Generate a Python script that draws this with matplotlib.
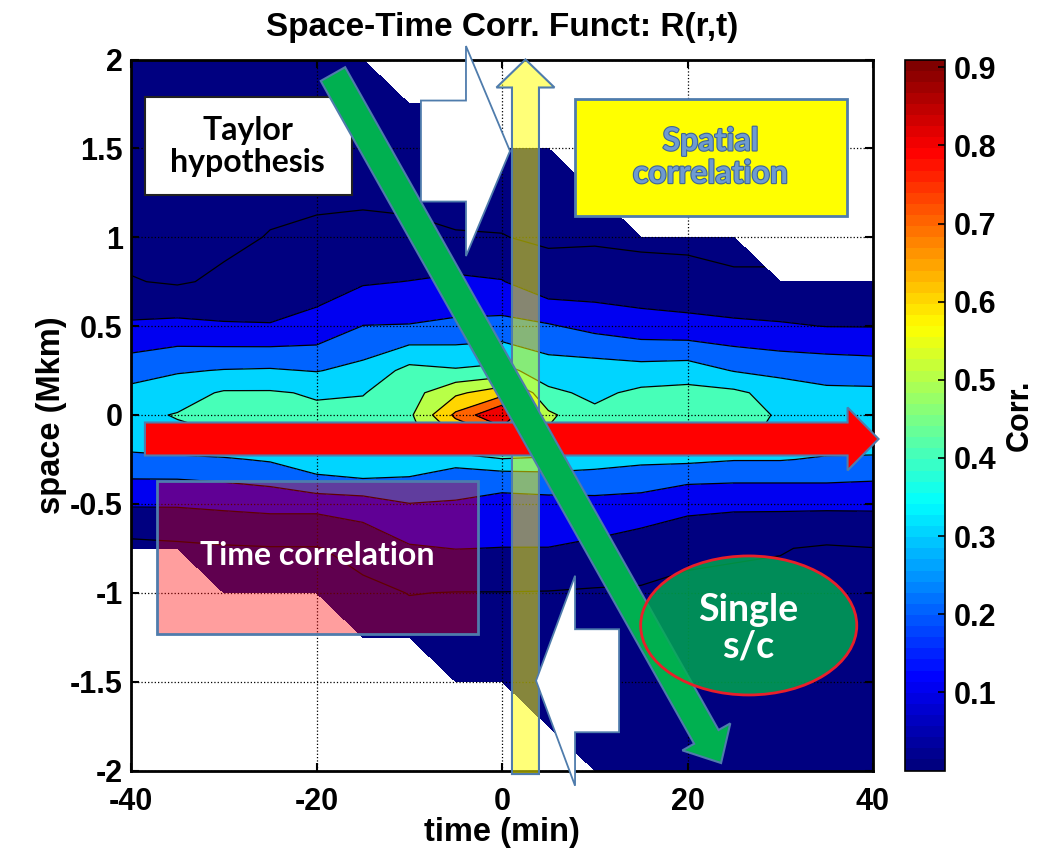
import numpy as np
import matplotlib
matplotlib.use("Agg")
import matplotlib.pyplot as plt
import matplotlib.patheffects as pe
from matplotlib.colors import LinearSegmentedColormap, Normalize
from matplotlib.cm import ScalarMappable
from matplotlib.patches import Polygon, Rectangle, Ellipse

nan = np.nan

# time lag (min) and spacecraft separation (Mkm)
lag = [-40, -35, -30, -25, -20, -15, -10, -5, 0, 5, 10, 15, 20, 25, 30, 35, 40]
sep = [-2.0, -1.75, -1.5, -1.25, -1.0, -0.75, -0.5, -0.375, -0.25, -0.125,
       0.0, 0.125, 0.25, 0.5, 0.75, 1.0, 1.25, 1.5, 1.75, 2.0]

# R(r,t): one row per separation, bottom to top; nan where there is no coverage
corr = [
    [nan, nan, nan, nan, nan, nan, nan, nan, nan, nan, -0.04, -0.04, -0.04, -0.04, -0.04, -0.04, -0.04],
    [nan, nan, nan, nan, nan, nan, nan, nan, nan, -0.04, -0.04, -0.04, -0.04, -0.04, -0.04, -0.04, -0.04],
    [nan, nan, nan, nan, nan, nan, nan, -0.04, -0.04, -0.03, -0.04, -0.04, -0.04, -0.04, -0.04, -0.04, -0.04],
    [nan, nan, nan, nan, nan, -0.04, -0.03, -0.02, -0.02, -0.02, -0.03, -0.03, -0.03, -0.03, -0.03, -0.03, -0.03],
    [nan, nan, -0.04, -0.03, -0.03, -0.02, 0.002, -0.002, -0.002, -0.004, -0.01, -0.01, -0.02, -0.02, -0.02, -0.02, -0.02],
    [-0.03, -0.02, -0.01, -0.005, -0.005, 0.03, 0.09, 0.102, 0.098, 0.098, 0.08, 0.05, 0.02, 0.01, 0.004, -0.01, -0.002],
    [0.11, 0.11, 0.12, 0.13, 0.13, 0.15, 0.198, 0.19, 0.18, 0.18, 0.17, 0.16, 0.13, 0.12, 0.12, 0.12, 0.12],
    [0.19, 0.19, 0.202, 0.22, 0.28, 0.29, 0.28, 0.25, 0.22, 0.23, 0.25, 0.24, 0.21, 0.205, 0.205, 0.205, 0.198],
    [0.27, 0.28, 0.29, 0.31, 0.34, 0.36, 0.37, 0.33, 0.39, 0.39, 0.34, 0.32, 0.32, 0.305, 0.305, 0.29, 0.29],
    [0.36, 0.38, 0.395, 0.42, 0.405, 0.41, 0.46, 0.60, 0.70, 0.48, 0.405, 0.42, 0.42, 0.42, 0.38, 0.35, 0.34],
    [0.38, 0.405, 0.43, 0.45, 0.42, 0.43, 0.48, 0.72, 0.91, 0.52, 0.42, 0.44, 0.45, 0.44, 0.39, 0.36, 0.35],
    [0.33, 0.36, 0.41, 0.41, 0.39, 0.395, 0.46, 0.58, 0.66, 0.42, 0.38, 0.42, 0.43, 0.42, 0.36, 0.32, 0.32],
    [0.255, 0.29, 0.305, 0.31, 0.295, 0.33, 0.43, 0.41, 0.43, 0.35, 0.35, 0.34, 0.35, 0.295, 0.27, 0.26, 0.25],
    [0.115, 0.125, 0.11, 0.105, 0.13, 0.202, 0.205, 0.22, 0.23, 0.21, 0.17, 0.14, 0.13, 0.12, 0.11, 0.098, 0.097],
    [0.005, -0.01, 0.016, 0.04, 0.06, 0.09, 0.102, 0.12, 0.105, 0.03, 0.04, 0.04, 0.03, 0.01, 0.01, 0.02, 0.02],
    [-0.03, -0.03, -0.02, 0.004, 0.01, 0.016, 0.01, 0.002, 0.002, -0.01, -0.01, -0.02, -0.02, -0.02, nan, nan, nan],
    [-0.04, -0.04, -0.04, -0.02, -0.01, -0.01, -0.01, -0.01, -0.02, -0.03, -0.04, nan, nan, nan, nan, nan, nan],
    [-0.04, -0.04, -0.04, -0.04, -0.03, -0.03, -0.03, -0.03, -0.04, -0.04, nan, nan, nan, nan, nan, nan, nan],
    [-0.04, -0.04, -0.04, -0.04, -0.04, -0.04, -0.04, -0.04, nan, nan, nan, nan, nan, nan, nan, nan, nan],
    [-0.04, -0.04, -0.04, -0.04, -0.04, -0.04, nan, nan, nan, nan, nan, nan, nan, nan, nan, nan, nan],
]

levels = [-0.1, 0.0, 0.1, 0.2, 0.3, 0.4, 0.5, 0.6, 0.7, 0.8, 1.0]
line_levels = [0.0, 0.1, 0.2, 0.3, 0.4, 0.5, 0.6, 0.7, 0.8]
cbar_ticks = [0.1, 0.2, 0.3, 0.4, 0.5, 0.6, 0.7, 0.8, 0.9]
cmin, cmax = 0.0, 0.91

plt.rcParams['axes.unicode_minus'] = False
plt.rcParams['font.family'] = ['Liberation Sans', 'DejaVu Sans']
plt.rcParams['font.weight'] = 'bold'
plt.rcParams['axes.labelweight'] = 'bold'
plt.rcParams['axes.titleweight'] = 'bold'
plt.rcParams['font.size'] = 22

# matlab style jet, 64 entries
jet64 = LinearSegmentedColormap.from_list(
    "jet64", [(0, (0, 0, 0.5)), (0.125, (0, 0, 1)), (0.375, (0, 1, 1)),
              (0.625, (1, 1, 0)), (0.875, (1, 0, 0)), (1, (0.5, 0, 0))], N=64)
# each band takes the colour of its lower level
fill_colors = [jet64(float(np.clip((lv - cmin) / (cmax - cmin), 0, 1))) for lv in levels[:-1]]

fig = plt.figure(figsize=(10.59, 8.49), dpi=100)
ax = fig.add_axes([131 / 1059, 78.5 / 849, 742 / 1059, 711 / 849])
ax.set_xlim(-40, 40)
ax.set_ylim(-2, 2)

T, R = np.meshgrid(lag, sep)
Z = np.ma.masked_invalid(np.array(corr))
ax.contourf(T, R, Z, levels=levels, colors=fill_colors, zorder=0.5)
ax.contour(T, R, Z, levels=line_levels, colors='k', linewidths=0.9, zorder=1)

ax.set_xticks([-40, -20, 0, 20, 40])
ax.set_yticks([-2, -1.5, -1, -0.5, 0, 0.5, 1, 1.5, 2])
ax.set_yticklabels(['-2', '-1.5', '-1', '-0.5', '0', '0.5', '1', '1.5', '2'])
ax.tick_params(direction='in', length=6, width=1.5, top=True, right=True)
ax.tick_params(axis='x', pad=12)
ax.tick_params(axis='y', pad=6)
for s in ax.spines.values():
    s.set_linewidth(2)
ax.set_axisbelow(False)
ax.grid(True, color='k', linestyle=':', linewidth=0.9)
ax.set_xlabel('time (min)', fontsize=23.5, labelpad=0)
ax.set_ylabel('space (Mkm)', fontsize=23.5, labelpad=2)
ax.set_title('Space-Time Corr. Funct: R(r,t)', fontsize=24, pad=17)

# colorbar
cax = fig.add_axes([905 / 1059, 78.5 / 849, 40 / 1059, 711 / 849])
cb = fig.colorbar(ScalarMappable(norm=Normalize(cmin, cmax), cmap=jet64), cax=cax, ticks=cbar_ticks)
cb.ax.set_yticklabels([f'{v:.1f}' for v in cbar_ticks])
cb.ax.tick_params(direction='in', length=5, width=1.2, pad=6)
cb.outline.set_linewidth(1.2)
cb.set_label('Corr.', labelpad=6, fontweight='bold')

edge = '#4F7CAC'
ann_font = dict(family=['Lato', 'DejaVu Sans'], weight='bold')


def block_arrow(start, end, shaft, head, head_len, **kw):
    # widths are in pixels, ends in data units
    p0 = ax.transData.transform(start)
    p1 = ax.transData.transform(end)
    u = (p1 - p0) / np.hypot(*(p1 - p0))
    n = np.array([-u[1], u[0]])
    b = p1 - u * head_len
    pts = [p0 + n * shaft / 2, b + n * shaft / 2, b + n * head / 2, p1,
           b - n * head / 2, b - n * shaft / 2, p0 - n * shaft / 2]
    pts = ax.transData.inverted().transform(pts)
    ax.add_patch(Polygon(pts, closed=True, clip_on=False, **kw))


# text boxes
ax.add_patch(Rectangle((-38.5, 1.24), 22.3, 0.55, facecolor='white', edgecolor='#222222',
                       linewidth=1.5, zorder=3, clip_on=False))
ax.text(-27.4, 1.51, 'Taylor\nhypothesis', ha='center', va='center', fontsize=23,
        color='black', linespacing=1.15, zorder=3.5, **ann_font)

ax.add_patch(Rectangle((7.9, 1.12), 29.3, 0.66, facecolor='#FFFF00', edgecolor=edge,
                       linewidth=2, zorder=3, clip_on=False))
ax.text(22.5, 1.45, 'Spatial\ncorrelation', ha='center', va='center', fontsize=23,
        color='#6E9BD0', linespacing=1.15, zorder=3.5,
        path_effects=[pe.withStroke(linewidth=1.6, foreground='#3E6596')], **ann_font)

ax.add_patch(Rectangle((-37.2, -1.23), 34.6, 0.86, facecolor=(1, 0, 0, 0.38), edgecolor=edge,
                       linewidth=2, zorder=3, clip_on=False))
ax.text(-19.9, -0.79, 'Time correlation', ha='center', va='center', fontsize=23,
        color='white', zorder=3.5, **ann_font)

# arrows
block_arrow((2.53, -2.02), (2.53, 2.0), 27, 58, 28, facecolor=(1, 1, 0, 0.53),
            edgecolor=edge, linewidth=1.5, zorder=4)
block_arrow((-8.74, 1.485), (0.86, 1.485), 101, 210, 44, facecolor='white',
            edgecolor=edge, linewidth=1.3, zorder=4.5)
block_arrow((12.62, -1.495), (3.67, -1.495), 103, 210, 39, facecolor='white',
            edgecolor=edge, linewidth=1.3, zorder=4.5)
block_arrow((-38.5, -0.135), (40.6, -0.135), 33, 63, 31, facecolor='#FF0000',
            edgecolor=edge, linewidth=1.5, zorder=5)
block_arrow((-18.23, 1.918), (23.62, -1.958), 28, 55, 30, facecolor='#00B050',
            edgecolor=edge, linewidth=1.5, zorder=6)

ax.add_patch(Ellipse((26.6, -1.184), 23.3, 0.782, facecolor=(0, 0.69, 0.31, 0.8),
                     edgecolor='#E8202A', linewidth=2, zorder=7, clip_on=False))
ax.text(26.5, -1.2, 'Single\ns/c', ha='center', va='center', fontsize=27,
        color='white', linespacing=1.1, zorder=8, **ann_font)

fig.savefig('out.png', dpi=100)
